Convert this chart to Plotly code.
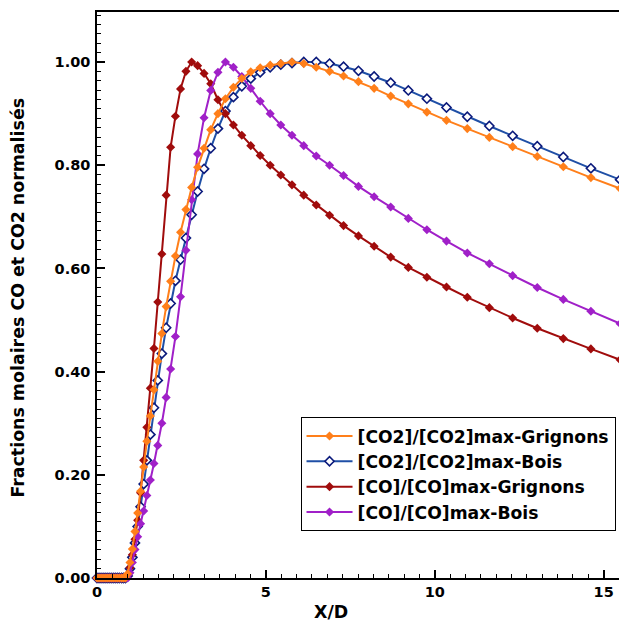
import plotly.graph_objects as go

# Shared abscissa (X/D) of the computational stations
x_d = [0.0, 0.06, 0.12, 0.18, 0.24, 0.30, 0.36, 0.42, 0.48, 0.54, 0.60, 0.66, 0.728, 0.784, 0.843,
       0.908, 0.976, 1.047, 1.124, 1.204, 1.290, 1.382, 1.476, 1.580, 1.686,
       1.799, 1.920, 2.047, 2.180, 2.322, 2.473, 2.633, 2.802, 2.979, 3.169,
       3.367, 3.580, 3.802, 4.038, 4.287, 4.552, 4.831, 5.127, 5.441, 5.772,
       6.121, 6.491, 6.885, 7.299, 7.740, 8.204, 8.695, 9.216, 9.766, 10.346,
       10.962, 11.615, 12.305, 13.033, 13.805, 14.621, 15.485]

zeros = [0.0] * 15

co2_grignons = zeros + [
    0.008, 0.030, 0.056, 0.090, 0.126, 0.168, 0.215, 0.265, 0.314, 0.365,
    0.420, 0.474, 0.526, 0.575, 0.624, 0.670, 0.714, 0.757, 0.796, 0.833,
    0.869, 0.900, 0.929, 0.951, 0.968, 0.981, 0.989, 0.994, 0.997, 1.000,
    0.997, 0.990, 0.982, 0.973, 0.962, 0.949, 0.934, 0.919, 0.903, 0.887,
    0.871, 0.854, 0.836, 0.817, 0.797, 0.776, 0.755]

co2_bois = zeros + [
    0.004, 0.018, 0.040, 0.068, 0.100, 0.138, 0.182, 0.228, 0.278, 0.330,
    0.383, 0.435, 0.485, 0.532, 0.576, 0.617, 0.659, 0.704, 0.749, 0.793,
    0.833, 0.871, 0.905, 0.932, 0.953, 0.968, 0.980, 0.990, 0.995, 0.998,
    1.000, 1.000, 0.997, 0.991, 0.983, 0.972, 0.960, 0.945, 0.929, 0.912,
    0.894, 0.876, 0.857, 0.837, 0.816, 0.794, 0.772]

co_grignons = zeros + [
    0.005, 0.020, 0.045, 0.075, 0.112, 0.165, 0.228, 0.292, 0.368, 0.445,
    0.535, 0.628, 0.742, 0.835, 0.895, 0.948, 0.982, 1.000, 0.993, 0.978,
    0.958, 0.927, 0.900, 0.878, 0.858, 0.838, 0.819, 0.800, 0.781, 0.762,
    0.742, 0.723, 0.703, 0.683, 0.663, 0.643, 0.622, 0.602, 0.583, 0.564,
    0.544, 0.524, 0.504, 0.484, 0.464, 0.444, 0.423]

co_bois = zeros + [
    0.000, 0.010, 0.030, 0.055, 0.080, 0.105, 0.130, 0.160, 0.190, 0.222,
    0.257, 0.300, 0.350, 0.405, 0.468, 0.545, 0.635, 0.733, 0.822, 0.892,
    0.945, 0.980, 1.000, 0.990, 0.972, 0.949, 0.924, 0.900, 0.878, 0.858,
    0.838, 0.818, 0.800, 0.780, 0.759, 0.739, 0.719, 0.697, 0.675, 0.653,
    0.630, 0.609, 0.586, 0.563, 0.540, 0.517, 0.493]

names = ["[CO2]/[CO2]max-Grignons", "[CO2]/[CO2]max-Bois",
         "[CO]/[CO]max-Grignons", "[CO]/[CO]max-Bois"]
x_ticks = [0, 5, 10, 15]
y_ticks = [0.0, 0.2, 0.4, 0.6, 0.8, 1.0]
x_title = "X/D"
y_title = "Fractions molaires CO et CO2 normalisés"

FONT = "DejaVu Sans, sans-serif"

fig = go.Figure()

# drawing order: blue, dark red, purple, orange (orange on top)
fig.add_trace(go.Scatter(
    x=x_d, y=co2_bois, name=names[1], mode="lines+markers", legendrank=2,
    line=dict(color="#1f4fa6", width=2),
    marker=dict(symbol="diamond", size=7, color="white",
                line=dict(color="#0b1a7c", width=1.6)),
    cliponaxis=False))
fig.add_trace(go.Scatter(
    x=x_d, y=co_grignons, name=names[2], mode="lines+markers", legendrank=3,
    line=dict(color="#a00c0c", width=2),
    marker=dict(symbol="diamond", size=7, color="#a00c0c"),
    cliponaxis=False))
fig.add_trace(go.Scatter(
    x=x_d, y=co_bois, name=names[3], mode="lines+markers", legendrank=4,
    line=dict(color="#a020c8", width=2),
    marker=dict(symbol="diamond", size=7, color="#a020c8"),
    cliponaxis=False))
fig.add_trace(go.Scatter(
    x=x_d, y=co2_grignons, name=names[0], mode="lines+markers", legendrank=1,
    line=dict(color="#ff7f1a", width=2),
    marker=dict(symbol="diamond", size=7, color="#ff7f1a"),
    cliponaxis=False))

# page body has an 8px margin: size the figure so the plot area lands at
# x 97..627, y 12..578 of the window
fig.update_layout(
    width=619, height=616,
    margin=dict(l=89, r=0, t=4, b=46, autoexpand=False),
    paper_bgcolor="white", plot_bgcolor="white",
    font=dict(family=FONT, color="black"),
    showlegend=True,
    legend=dict(
        x=0.384, y=0.284, xanchor="left", yanchor="top",
        bordercolor="black", borderwidth=1, bgcolor="white",
        font=dict(family=FONT, size=17.2, weight="bold", color="black"),
        itemwidth=46, traceorder="normal"),
    xaxis=dict(
        range=[0, 15.69], tickvals=x_ticks, ticktext=[str(v) for v in x_ticks],
        showgrid=False, zeroline=False, automargin=False,
        showline=True, linecolor="black", linewidth=1.5, mirror=True,
        ticks="inside", ticklen=8, tickwidth=1.5, tickcolor="black",
        tickfont=dict(family=FONT, size=14.5, weight="bold"),
        minor=dict(dtick=5 / 11, tick0=0, ticks="inside", ticklen=4,
                   tickwidth=1.2, tickcolor="black", showgrid=False)),
    yaxis=dict(
        range=[0, 1.097], tickvals=y_ticks, ticktext=[f"{v:.2f}" for v in y_ticks],
        showgrid=False, zeroline=False, automargin=False,
        showline=True, linecolor="black", linewidth=1.5,
        ticks="inside", ticklen=8, tickwidth=1.5, tickcolor="black",
        ticklabelstandoff=2,
        tickfont=dict(family=FONT, size=14.5, weight="bold"),
        minor=dict(dtick=0.2 / 11, tick0=0, ticks="inside", ticklen=4,
                   tickwidth=1.2, tickcolor="black", showgrid=False)),
    annotations=[
        dict(text=x_title, xref="paper", yref="paper", x=0.4415, y=-0.060,
             xanchor="center", yanchor="middle", showarrow=False,
             font=dict(family=FONT, size=17.4, weight="bold", color="black")),
        dict(text=y_title, xref="paper", yref="paper", x=-0.149, y=0.4956,
             xanchor="center", yanchor="middle", showarrow=False, textangle=-90,
             font=dict(family=FONT, size=17.4, weight="bold", color="black")),
    ],
)

fig.write_html("out.html")
